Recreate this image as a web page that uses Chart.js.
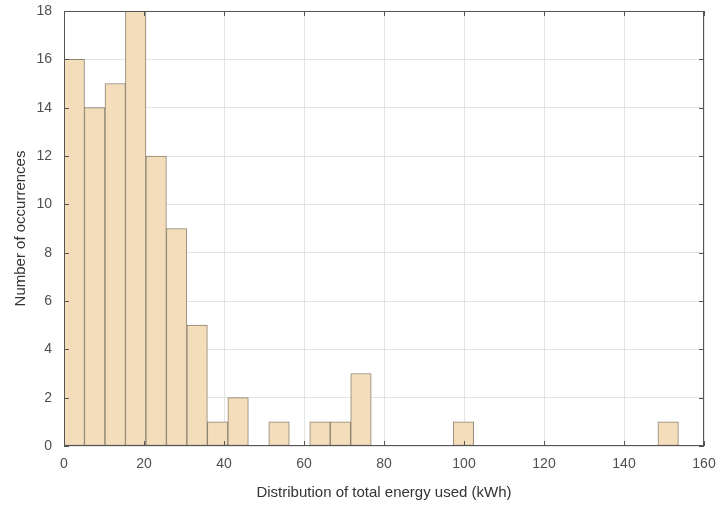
<!DOCTYPE html>
<html>
<head>
<meta charset="utf-8">
<script src="https://cdn.jsdelivr.net/npm/chart.js@4/dist/chart.umd.min.js"></script>
<style>
  html, body { margin: 0; padding: 0; background: #fff; }
  #wrap { width: 718px; height: 508px; position: relative; }
</style>
</head>
<body>
<div id="wrap"><canvas id="myChart"></canvas></div>
<script>

// histogram bins, width ~5.12 kWh starting at 0
const binWidth = 5.12;
const counts = [16, 14, 15, 18, 12, 9, 5, 1, 2, 0,
                1, 0, 1, 1, 3, 0, 0, 0, 0, 1,
                0, 0, 0, 0, 0, 0, 0, 0, 0, 1];
const xTicks = [0, 20, 40, 60, 80, 100, 120, 140, 160];
const yTicks = [0, 2, 4, 6, 8, 10, 12, 14, 16, 18];

const xTitle = 'Distribution of total energy used (kWh)';
const yTitle = 'Number of occurrences';

let points = [];
for(let i=0; i<counts.length; i++){
    points.push({x: (i + 0.5) * binWidth, y: counts[i] === 0 ? null : counts[i]});
}

const axisColor = '#555555';
const tickFont = {family: 'Liberation Sans, Arial, sans-serif', size: 14};

// MATLAB style box with inward tick marks
const boxPlugin = {
    id: 'box',
    afterDatasetsDraw(chart){
        const {ctx, chartArea: a, scales} = chart;
        ctx.save();
        ctx.strokeStyle = axisColor;
        ctx.lineWidth = 1;
        ctx.strokeRect(a.left + 0.5, a.top + 0.5, a.right - a.left - 1, a.bottom - a.top - 1);
        ctx.beginPath();
        const len = 5;
        xTicks.forEach(v => {
            const px = Math.round(scales.x.getPixelForValue(v)) + 0.5;
            ctx.moveTo(px, a.bottom); ctx.lineTo(px, a.bottom - len);
            ctx.moveTo(px, a.top); ctx.lineTo(px, a.top + len);
        });
        yTicks.forEach(v => {
            const py = Math.round(scales.y.getPixelForValue(v)) + 0.5;
            ctx.moveTo(a.left, py); ctx.lineTo(a.left + len, py);
            ctx.moveTo(a.right, py); ctx.lineTo(a.right - len, py);
        });
        ctx.stroke();
        ctx.restore();
    }
};

let config = {
    type: 'bar',
    data: {
        datasets: [{
            data: points,
            backgroundColor: '#f4ddba',
            borderColor: '#8c8272',
            borderWidth: 1,
            borderSkipped: false,
            barPercentage: 1,
            categoryPercentage: 1,
            grouped: false
        }]
    },
    options: {
        responsive: true,
        maintainAspectRatio: false,
        animation: false,
        layout: {
            padding: {left: 0, right: 14, top: 11, bottom: 0}
        },
        plugins: {
            legend: {display: false},
            tooltip: {enabled: false}
        },
        scales: {
            x: {
                type: 'linear',
                min: 0,
                max: 160,
                offset: false,
                afterBuildTicks: s => { s.ticks = xTicks.map(v => ({value: v})); },
                afterFit: s => { s.height = 62; s.paddingLeft = 0; s.paddingRight = 0; },
                grid: {color: '#e4e4e4', tickLength: 0, drawTicks: false, offset: false},
                border: {display: false},
                ticks: {color: '#505050', font: tickFont, padding: 10, maxRotation: 0},
                title: {
                    display: true,
                    text: xTitle,
                    color: '#333333',
                    font: {family: 'Liberation Sans, Arial, sans-serif', size: 15},
                    padding: {top: 2, bottom: 6}
                }
            },
            y: {
                min: 0,
                max: 18,
                afterBuildTicks: s => { s.ticks = yTicks.map(v => ({value: v})); },
                afterFit: s => { s.width = 64; s.paddingTop = 0; s.paddingBottom = 0; },
                grid: {color: '#e4e4e4', tickLength: 0, drawTicks: false},
                border: {display: false},
                ticks: {color: '#505050', font: tickFont, padding: 12},
                title: {
                    display: true,
                    text: yTitle,
                    color: '#333333',
                    font: {family: 'Liberation Sans, Arial, sans-serif', size: 15},
                    padding: {top: 12, bottom: 0}
                }
            }
        }
    },
    plugins: [boxPlugin]
};

new Chart(document.getElementById('myChart'), config);

</script>
</body>
</html>
